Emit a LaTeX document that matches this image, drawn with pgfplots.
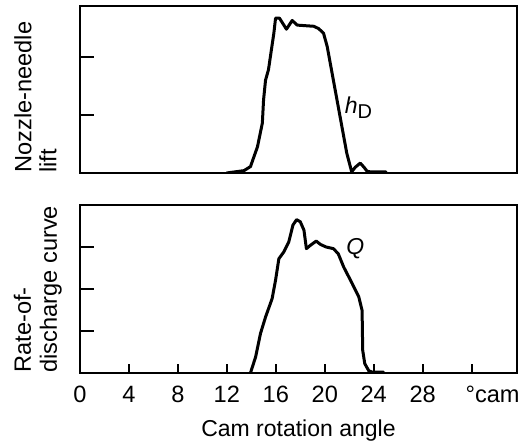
\documentclass[border=0pt]{standalone}
\usepackage{fontspec}
\setmainfont{Liberation Sans}
\usepackage{pgfplots}
\pgfplotsset{compat=1.18}
\begin{document}
\fontsize{11.5}{13}\selectfont
\begin{tikzpicture}
\pgfplotsset{
  myax/.style={
    scale only axis, width=218.5pt,
    xmin=0, xmax=35.7, ymin=0,
    axis line style={line width=1.1pt},
    tick style={line width=0.9pt, black},
    tick align=inside,
    ytick pos=left, xtick pos=bottom,
    major tick length=7pt,
    yticklabels={},
    /pgf/number format/assume math mode=true,
    ticklabel style={font=\fontsize{11.8}{13}\selectfont},
    label style={font=\fontsize{11.8}{13}\selectfont},
    every axis x label/.style={at={(axis description cs:0.5,0)}, anchor=north, yshift=-23.5pt, inner sep=0pt},
    xticklabel style={inner sep=0pt, yshift=-6.5pt},
  },
  curve/.style={black, line width=1.5pt, line join=round, line cap=round},
}
\path (-40pt,-35pt) rectangle (219pt,186.5pt);
\begin{axis}[myax, at={(0,100pt)}, anchor=south west, height=83.5pt,
  ymax=2.88, ytick={1,2}, xtick=\empty,
  ylabel={Nozzle-needle\\lift},
  every axis y label/.style={at={(axis description cs:-0.0526,0)}, rotate=90, anchor=south west, align=left, inner sep=0pt, font=\fontsize{11.8}{12.5}\selectfont},
]
\addplot[curve] coordinates {
(12,0) (13.4,0.04) (13.93,0.11) (14.5,0.45) (14.9,0.86) (15.0,1.26) (15.16,1.6) (15.4,1.78) (15.84,2.41) (15.98,2.67) (16.3,2.67) (16.87,2.48) (17.34,2.63) (17.75,2.55) (19.1,2.53) (19.5,2.49) (19.9,2.41) (20.2,2.18) (20.6,1.72) (21.0,1.26) (21.4,0.8) (21.8,0.34) (22.2,0.02) (22.5,0.1) (22.9,0.17) (23.2,0.1) (23.46,0.03) (23.7,0.02) (25.0,0.02)
};
\node at (axis cs:22.75,1.12) {\itshape h\raisebox{-2.5pt}{\upshape\fontsize{10}{12}\selectfont D}};
\end{axis}
\begin{axis}[myax, at={(0,0)}, anchor=south west, height=84pt,
  ymax=4, ytick={1,2,3},
  xtick={0,4,...,32},
  xticklabels={0,4,8,12,16,20,24,28,{\rlap{\hspace{-3pt}°cam}}},
  xtick style={/pgfplots/major tick length=4.5pt},
  xlabel={Cam rotation angle},
  ylabel={Rate-of-\\discharge curve},
  every axis y label/.style={at={(axis description cs:-0.041,0)}, rotate=90, anchor=south west, align=left, inner sep=0pt, font=\fontsize{11.8}{13}\selectfont},
]
\addplot[curve] coordinates {
(13.93,0) (14.35,0.38) (14.75,0.94) (15.16,1.33) (15.7,1.77) (15.98,2.21) (16.25,2.72) (16.65,2.88) (17.06,3.12) (17.4,3.52) (17.7,3.65) (18.0,3.6) (18.3,3.4) (18.5,2.96) (18.83,3.04) (19.3,3.14) (19.65,3.06) (20.1,3.0) (20.7,2.96) (21.1,2.84) (21.55,2.52) (22.24,2.13) (22.78,1.81) (23.05,1.49) (23.1,0.54) (23.27,0.22) (23.6,0.05) (23.87,0.02) (24.8,0.02)
};
\node at (axis cs:22.5,2.97) {\itshape Q};
\end{axis}
\end{tikzpicture}
\end{document}
